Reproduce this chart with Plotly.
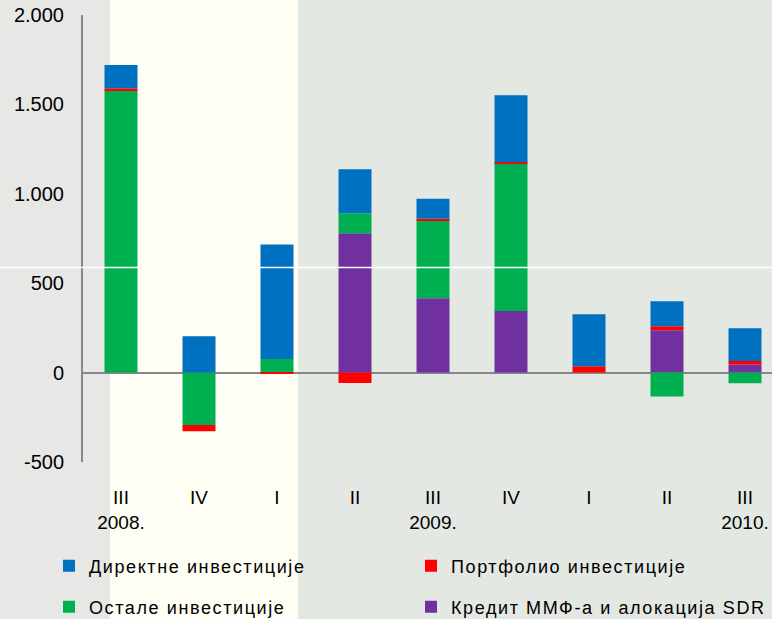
import plotly.graph_objects as go

# Quarters on the category axis (two-line labels where the year changes)
quarter_labels = ["III<br>2008.", "IV", "I", "II", "III<br>2009.", "IV", "I", "II", "III<br>2010."]
positions = list(range(len(quarter_labels)))

# Components of the financial account, EUR mn
direct_inv = [130, 203, 641, 246, 112, 374, 291, 140, 183]
portfolio_inv = [15, -35, -8, -58, 8, 5, 35, 22, 20]
other_inv = [1575, -293, 76, 112, 436, 827, 0, -133, -60]
imf_sdr = [0, 0, 0, 779, 416, 345, 0, 237, 45]

series_names = {
    "direct": "Директне инвестиције",
    "portfolio": "Портфолио инвестиције",
    "other": "Остале инвестиције",
    "imf": "Кредит ММФ-а и алокација SDR",
}

y_tickvals = [-500, 0, 500, 1000, 1500, 2000]
y_ticktext = ["-500", "0", "500", "1.000", "1.500", "2.000"]

FONT = "Liberation Sans, Arial, sans-serif"
AXIS_GREY = "#878787"


def spaced(text):
    # legend labels are set with a slightly open letter spacing
    return '<span style="letter-spacing:1.6px">' + text + "</span>"


fig = go.Figure()
# stacking order from the baseline upward: IMF/SDR, other, portfolio, direct
fig.add_trace(go.Bar(x=positions, y=imf_sdr, name=spaced(series_names["imf"]),
                     marker_color="#7030A0", legend="legend2", legendrank=4))
fig.add_trace(go.Bar(x=positions, y=other_inv, name=spaced(series_names["other"]),
                     marker_color="#00B050", legend="legend2", legendrank=3))
fig.add_trace(go.Bar(x=positions, y=portfolio_inv, name=spaced(series_names["portfolio"]),
                     marker_color="#FF0000", legend="legend", legendrank=2))
fig.add_trace(go.Bar(x=positions, y=direct_inv, name=spaced(series_names["direct"]),
                     marker_color="#0070C0", legend="legend", legendrank=1))
fig.update_traces(marker_line_width=0, hoverinfo="x+y+name")

L, T, PW, PH = 82, 15, 690, 447


def px_x(p):
    return (p - L) / PW


def px_y(p):
    return (T + PH - p) / PH


legend_common = dict(orientation="h", xanchor="left", yanchor="middle",
                     entrywidth=317, entrywidthmode="pixels",
                     bgcolor="rgba(0,0,0,0)", borderwidth=0,
                     font=dict(family=FONT, size=18, color="#000000"),
                     traceorder="normal", itemwidth=30)

fig.update_layout(
    width=772, height=619,
    margin=dict(l=L, r=0, t=T, b=619 - T - PH, pad=0, autoexpand=False),
    barmode="relative",
    bargap=0.577,
    paper_bgcolor="#E4E8E2",
    plot_bgcolor="rgba(0,0,0,0)",
    font=dict(family=FONT, size=19, color="#000000"),
    showlegend=True,
    legend=dict(x=px_x(49), y=px_y(566), **legend_common),
    legend2=dict(x=px_x(49), y=px_y(607), **legend_common),
    xaxis=dict(
        range=[-0.5, -0.5 + PW / 78.0],
        tickmode="array", tickvals=positions, ticktext=quarter_labels,
        showgrid=False, zeroline=False, showline=False, ticks="",
        tickfont=dict(size=19), ticklabelstandoff=22,
    ),
    yaxis=dict(
        range=[-500, 2000],
        tickmode="array", tickvals=y_tickvals, ticktext=y_ticktext,
        showgrid=False, showline=False,
        zeroline=True, zerolinecolor=AXIS_GREY, zerolinewidth=2,
        ticks="", tickfont=dict(size=20), ticklabelstandoff=17,
    ),
    shapes=[
        # textured side panel on the left
        dict(type="rect", xref="paper", yref="paper", layer="below",
             x0=px_x(0), x1=px_x(110), y0=px_y(619), y1=px_y(0),
             fillcolor="#E7E7E5", line_width=0),
        # light cream band
        dict(type="rect", xref="paper", yref="paper", layer="below",
             x0=px_x(110), x1=px_x(298), y0=px_y(619), y1=px_y(0),
             fillcolor="#FEFEF4", line_width=0),
        # vertical value-axis line, spanning exactly the plotting height
        dict(type="line", xref="paper", yref="paper", layer="above",
             x0=0, x1=0, y0=0, y1=1,
             line=dict(color=AXIS_GREY, width=2)),
        # thin light seam across the chart
        dict(type="line", xref="paper", yref="paper", layer="above",
             x0=px_x(0), x1=1, y0=px_y(267.5), y1=px_y(267.5),
             line=dict(color="#FFFFFF", width=1.5)),
    ],
)

fig.write_html("out.html")
